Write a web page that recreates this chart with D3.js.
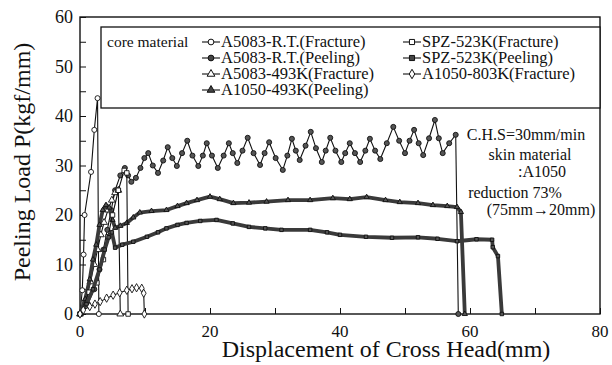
<!DOCTYPE html>
<meta charset="utf-8" />
<html>
<style>
  body { margin: 0; background: #fff; }
  text { font-family: "Liberation Serif", "Times New Roman", serif; fill: #111; }
</style>
<body>
<svg width="612" height="365"></svg>
<script src="https://d3js.org/d3.v7.min.js"></script>
<script>
  // tick values
  var xTicks = [0, 20, 40, 60, 80];
  var yTicks = [0, 10, 20, 30, 40, 50, 60];

  // [displacement mm, load kgf/mm]
  var rtFracture = [[0,0],[0.35,4.8],[0.55,12],[0.7,20],[1.7,28.7],[2.2,37.2],[2.7,43.6],[2.9,0]];

  var rtPeeling = [[0,0],[1.2,2],[2.2,5],[3.0,9],[3.6,13],[4.2,17],[4.8,21],[5.4,25],[6.2,28],[6.9,29.5],
    [7.4,28],[7.9,26.7],[8.6,27.5],[9.3,29.5],[9.9,31.5],[10.5,32.5],[11.2,30],[12,28.5],[12.8,31],[13.5,33.7],
    [14.2,31.5],[14.9,29.9],[15.7,32.5],[16.5,35],[17.3,32],[18.2,29.9],[18.9,32],[19.5,34.5],[20.3,32],[21.2,29.5],
    [22.1,32],[22.9,34.5],[23.5,32.5],[24.2,30.5],[25,33],[25.8,35.6],[26.7,32.5],[27.7,30.1],[28.4,32.5],[29.1,34.7],
    [30.1,31.5],[31.2,29.1],[31.9,32],[32.6,35.4],[33.2,33],[33.8,31.1],[34.7,34],[35.5,36.8],[36.3,33.5],[37.2,30.7],
    [37.8,33],[38.5,35.6],[39.3,33],[40.2,30.7],[40.8,32.5],[41.5,34.5],[42.3,32.5],[43.1,30.7],[43.9,33],[44.6,35.4],
    [45.4,33],[46.2,31.3],[47.2,34.5],[48.2,37.8],[49.1,35],[50,32.5],[50.7,35],[51.4,37.2],[52.1,34.5],[52.8,32.1],
    [53.7,35.5],[54.6,39.2],[55.2,35.5],[55.8,32.5],[56.8,34.5],[57.8,36.2],[58.2,0]];

  var a493Fracture = [[0,0],[0.9,3],[1.6,6.5],[2.2,10],[2.7,13],[3.2,16],[3.7,18.5],[4.3,21],[4.9,23],[5.4,24.5],[5.9,25],[6.2,0]];

  var a1050Peeling = [[0,0],[0.8,3],[1.5,7],[2,11],[2.5,14],[3,18],[3.5,21],[4,22],[4.5,21.5],[5,19],[5.4,17.4],
    [6.2,17.8],[7.2,18.4],[8.2,19.5],[9.2,20.5],[11,20.8],[13.3,21],[15,21.8],[16.4,22.4],[18,23],[20,23.7],
    [21.5,23.2],[23.6,22.4],[26,22.5],[28.7,22.7],[32,23],[35.4,23],[38.9,23.4],[41.5,23.2],[44.1,23.6],[47,23],
    [49.2,22.6],[52,22.4],[54.3,22],[56.5,21.8],[58,21.6],[58.6,20.6],[59.2,0]];

  var spzFracture = [[0,0],[1.4,4.4],[2.6,6.3],[3.6,11],[4.3,15.6],[5,20],[5.9,25],[6.8,29],[7.2,28.5],[7.4,0]];

  var spzPeeling = [[0,0],[1,2],[2,5],[3,9],[3.8,13],[4.4,15.5],[4.9,16.5],[5.4,13.4],[6.5,14],[8.2,14.6],
    [10.3,15.6],[12,16.5],[13.3,17.3],[15,18],[16.4,18.4],[18.5,18.8],[21,19],[23.5,18.3],[26,17.6],[28.5,17.3],
    [31,17],[35.4,17],[38,16.5],[40,16],[44,15.6],[48,15.4],[52,15.5],[55,15.2],[58,14.7],[61,15.1],
    [63.4,15],[63.5,13.5],[64.3,11.7],[64.9,0]];

  var a1050Fracture = [[0,0],[0.5,0.8],[1.5,1.5],[2.3,2],[3.1,2.5],[4.1,3.2],[5.1,3.8],[6.1,4.3],[7.2,4.8],
    [8,5.1],[8.7,5.3],[9.5,5.2],[9.8,4.2],[9.9,0]];

  var seriesNames = ["A5083-R.T.(Fracture)", "A5083-R.T.(Peeling)", "A5083-493K(Fracture)", "A1050-493K(Peeling)",
    "SPZ-523K(Fracture)", "SPZ-523K(Peeling)", "A1050-803K(Fracture)"];

  var notes = ["C.H.S=30mm/min", "skin material", ":A1050", "reduction 73%", "(75mm\u219220mm)"];

  var series = [
    { name: seriesNames[0], data: rtFracture,    sym: d3.symbolCircle,   open: true,  thick: false },
    { name: seriesNames[1], data: rtPeeling,     sym: d3.symbolCircle,   open: false, thick: false },
    { name: seriesNames[2], data: a493Fracture,  sym: d3.symbolTriangle, open: true,  thick: false },
    { name: seriesNames[3], data: a1050Peeling,  sym: d3.symbolTriangle, open: false, thick: true },
    { name: seriesNames[4], data: spzFracture,   sym: d3.symbolSquare,   open: true,  thick: false },
    { name: seriesNames[5], data: spzPeeling,    sym: d3.symbolSquare,   open: false, thick: true },
    { name: seriesNames[6], data: a1050Fracture, sym: d3.symbolDiamond,  open: true,  thick: false }
  ];

  var svg = d3.select("svg");
  // plot frame edges (window.top is read-only, so no bare "top")
  var pLeft = 80, pRight = 600, pTop = 17, pBottom = 314;

  var x = d3.scaleLinear().domain([0, 80]).range([pLeft, pRight]);
  var y = d3.scaleLinear().domain([0, 60]).range([pBottom, pTop]);

  // frame
  svg.append("rect")
    .attr("x", pLeft).attr("y", pTop)
    .attr("width", pRight - pLeft).attr("height", pBottom - pTop)
    .attr("fill", "none").attr("stroke", "#111").attr("stroke-width", 1.4);

  // inward ticks
  svg.append("g")
    .attr("transform", "translate(0," + pBottom + ")")
    .call(d3.axisTop(x).tickValues(d3.range(0, 81, 10)).tickSize(6).tickFormat(""))
    .call(function (g) { g.select(".domain").remove(); g.selectAll("line").attr("stroke", "#111"); });

  svg.append("g")
    .attr("transform", "translate(" + pLeft + ",0)")
    .call(d3.axisRight(y).tickValues(d3.range(0, 61, 5)).tickSize(6).tickFormat(""))
    .call(function (g) { g.select(".domain").remove(); g.selectAll("line").attr("stroke", "#111"); });

  // tick labels
  svg.append("g").selectAll("text")
    .data(xTicks).enter().append("text")
    .attr("x", function (d) { return x(d); })
    .attr("y", 337)
    .attr("text-anchor", "middle")
    .attr("font-size", 17)
    .text(function (d) { return d; });

  svg.append("g").selectAll("text")
    .data(yTicks).enter().append("text")
    .attr("x", 73)
    .attr("y", function (d) { return y(d) + 6; })
    .attr("text-anchor", "end")
    .attr("font-size", 18)
    .text(function (d) { return d; });

  // axis titles
  svg.append("text")
    .attr("transform", "translate(30,162) rotate(-90)")
    .attr("text-anchor", "middle")
    .attr("font-size", 24)
    .text("Peeling Load P(kgf/mm)");

  svg.append("text")
    .attr("x", 386).attr("y", 357)
    .attr("text-anchor", "middle")
    .attr("font-size", 24)
    .text("Displacement of Cross Head(mm)");

  var line = d3.line()
    .x(function (d) { return x(d[0]); })
    .y(function (d) { return y(d[1]); });

  var plot = svg.append("g");

  series.forEach(function (s) {
    plot.append("path")
      .datum(s.data)
      .attr("d", line)
      .attr("fill", "none")
      .attr("stroke", s.thick ? "#3a3a3a" : "#111")
      .attr("stroke-width", s.thick ? 3.8 : 1.1)
      .attr("stroke-linejoin", "round");

    plot.append("g").selectAll("path")
      .data(s.data).enter().append("path")
      .attr("transform", function (d) { return "translate(" + x(d[0]) + "," + y(d[1]) + ")"; })
      .attr("d", d3.symbol().type(s.sym).size(s.thick ? 12 : 20))
      .attr("fill", s.open ? "#fff" : "#555")
      .attr("stroke", "#111")
      .attr("stroke-width", 0.9);
  });

  // legend box
  var legend = svg.append("g");
  legend.append("rect")
    .attr("x", 101).attr("y", 27)
    .attr("width", pRight - 101).attr("height", 81)
    .attr("fill", "#fff").attr("stroke", "#111").attr("stroke-width", 1.3);

  legend.append("text")
    .attr("x", 107).attr("y", 47)
    .attr("font-size", 15.5)
    .text("core material");

  series.forEach(function (s, i) {
    var col = i < 4 ? 0 : 1;
    var row = i < 4 ? i : i - 4;
    var mx = col === 0 ? 211 : 412;
    var my = 42 + row * 16;
    var g = legend.append("g");
    g.append("line")
      .attr("x1", mx - 9).attr("x2", mx + 9)
      .attr("y1", my).attr("y2", my)
      .attr("stroke", "#111").attr("stroke-width", 1.1);
    g.append("path")
      .attr("transform", "translate(" + mx + "," + my + ")")
      .attr("d", d3.symbol().type(s.sym).size(26))
      .attr("fill", s.open ? "#fff" : "#444")
      .attr("stroke", "#111").attr("stroke-width", 1);
    g.append("text")
      .attr("x", mx + 10).attr("y", my + 5)
      .attr("font-size", 16.5)
      .text(s.name);
  });

  // condition notes
  var noteX = [526, 530, 542, 515, 541];
  var noteY = [140, 160, 177, 198, 215];
  svg.append("g").selectAll("text")
    .data(notes).enter().append("text")
    .attr("x", function (d, i) { return noteX[i]; })
    .attr("y", function (d, i) { return noteY[i]; })
    .attr("text-anchor", "middle")
    .attr("font-size", 16)
    .text(function (d) { return d; });
</script>
</body>
</html>
